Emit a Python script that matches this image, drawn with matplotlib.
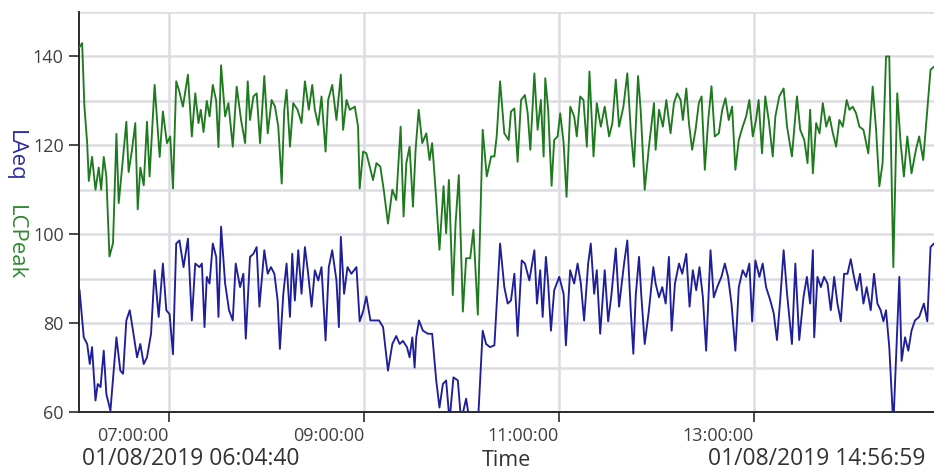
import datetime as dt
import matplotlib
matplotlib.use("Agg")
import matplotlib.pyplot as plt
import matplotlib.dates as mdates
from matplotlib.ticker import MultipleLocator

plt.rcParams["font.family"] = ["Open Sans", "DejaVu Sans"]

# minutes after 06:00 on 01/08/2019
laeq_min = [
    5.0, 7.6, 9.7, 11.3, 12.7, 14.8, 16.2, 17.9, 19.9, 21.5, 24.0, 27.7, 30.1, 31.8, 33.8,
    35.9, 37.9, 40.4, 42.4, 44.5, 46.5, 49.0, 51.2, 53.7, 56.3, 58.4, 60.4, 62.5, 64.5, 66.5,
    69.0, 71.7, 74.1, 76.2, 78.8, 80.3, 81.9, 83.3, 85.0, 87.0, 89.1, 90.5, 92.1,
    94.6, 97.0, 99.3, 101.1, 103.8, 105.8, 107.3, 109.9, 112.0, 114.0, 115.7, 118.7, 120.8,
    122.8, 124.9, 126.9, 128.3, 130.4, 132.4, 134.5, 135.9, 137.5, 139.6, 141.6, 143.7, 145.7,
    147.8, 149.8, 151.9, 153.9, 156.4, 158.4, 160.5, 163.1, 164.6, 165.8, 167.8, 169.9, 172.3,
    175.4, 177.4, 179.5,
    181.5, 184.0, 186.7, 189.3, 191.8, 194.8, 197.5, 199.9, 202.0, 204.0, 206.5, 208.1, 209.8,
    211.2, 212.2, 213.9, 216.3, 219.4, 222.0, 224.5, 226.5, 228.6, 230.6, 232.7, 235.1, 237.8,
    239.8, 242.9, 245.4, 250.1, 253.1, 255.2, 257.6, 260.3, 263.8, 266.4, 268.5,
    270.5, 272.6, 274.6, 277.1, 279.1, 281.8, 284.9, 286.5, 288.5, 290.0, 292.0, 293.4, 295.1,
    297.1, 300.2, 302.9, 304.3, 306.9, 309.4, 311.5, 313.5, 315.5, 318.0, 319.6, 321.7, 323.3,
    325.4, 328.2, 330.3, 332.3, 335.0, 337.0, 340.1, 342.1, 344.2, 345.8, 347.3, 349.3, 350.7,
    352.8, 355.4, 358.1,
    359.5, 361.6, 363.6, 365.7, 367.7, 369.4, 371.4, 373.9, 375.9, 378.4, 380.4, 382.4, 384.5,
    386.5, 388.6, 390.6, 393.3, 395.3, 397.4, 400.0, 402.1, 404.1, 406.2, 408.6, 410.7, 413.1,
    415.2, 417.2, 418.9, 420.9, 423.4, 425.4, 427.5, 430.1, 432.2, 434.2, 436.3, 438.3, 440.4,
    443.4, 445.5, 447.9,
    450.5, 452.6, 454.6, 456.3, 457.1, 459.1, 461.2, 463.2, 465.3, 467.3, 469.4, 471.4, 473.5,
    475.5, 477.6, 479.6, 481.2, 483.3, 485.3, 487.4, 489.4, 491.9, 493.9, 496.0, 498.0, 499.7,
    501.3, 503.3, 505.8, 507.8, 509.5, 510.9, 513.0, 515.0, 517.0, 519.1, 521.7, 524.6, 526.7,
    528.7, 530.8, 536.9,
]
laeq_db = [
    87.4, 76.8, 75.3, 70.8, 74.6, 62.6, 66.3, 65.6, 73.8, 64.0, 60.3, 76.8, 69.3, 68.6, 80.6,
    82.9, 78.3, 72.3, 75.3, 70.8, 72.3, 77.6, 91.9, 81.4, 93.4, 82.9, 82.0, 73.0, 97.9, 98.6,
    92.6, 99.0, 80.6, 93.4, 92.6, 93.4, 79.1, 90.4, 88.9, 97.9, 94.9, 81.4, 101.7,
    88.9, 82.9, 80.6, 93.4, 88.1, 91.1, 76.5, 94.9, 95.6, 97.1, 83.7, 96.4, 91.1,
    92.6, 91.1, 85.1, 74.2, 86.6, 93.4, 81.4, 95.6, 85.1, 96.4, 86.6, 97.1, 91.1,
    83.7, 91.9, 89.6, 92.6, 76.1, 92.6, 96.4, 89.6, 79.1, 99.4, 86.6, 92.6, 91.1,
    92.6, 80.4, 82.6,
    86.0, 80.6, 80.6, 80.6, 79.1, 69.3, 75.3, 77.1, 75.3, 76.0, 74.6, 72.3, 76.8,
    70.0, 76.8, 80.6, 78.3, 77.6, 77.6, 67.1, 61.0, 66.3, 67.1, 58.0, 67.8, 67.1,
    58.0, 63.0, 57.0, 57.0, 78.3, 75.3, 74.6, 75.0, 97.9, 88.1, 84.4,
    85.1, 91.1, 77.1, 94.1, 93.4, 89.6, 96.4, 84.4, 91.9, 81.4, 94.9, 88.9, 78.3,
    87.4, 90.4, 86.6, 75.0, 91.9, 88.9, 93.4, 88.9, 80.6, 93.4, 97.9, 86.6, 91.9,
    77.6, 91.9, 80.4, 86.3, 96.8, 83.7, 93.4, 98.6, 82.9, 73.1, 86.3, 94.9, 86.3,
    75.3, 82.9, 92.6,
    88.9, 85.8, 88.1, 84.4, 94.9, 78.3, 88.9, 93.4, 91.1, 95.6, 83.7, 91.9, 87.4,
    92.6, 85.8, 73.8, 96.4, 85.8, 88.1, 90.4, 93.4, 90.4, 84.4, 73.8, 88.1, 91.9,
    90.4, 93.4, 80.4, 94.1, 90.4, 93.4, 88.1, 85.1, 82.2, 76.2, 85.8, 96.4, 86.6,
    75.3, 93.4, 76.2,
    85.8, 90.4, 84.4, 96.4, 76.8, 90.4, 88.1, 90.4, 88.9, 82.9, 90.4, 84.4, 80.4,
    91.1, 91.1, 94.4, 91.1, 87.4, 91.1, 84.4, 88.1, 82.9, 91.1, 84.4, 82.9, 80.4,
    82.9, 74.6, 57.0, 75.3, 90.4, 71.5, 76.8, 73.8, 78.3, 80.6, 81.4, 84.4, 80.4,
    97.1, 97.9, 96.0,
]

lcpeak_min = [
    4.8, 6.6, 8.0, 9.7, 10.7, 12.7, 14.8, 16.8, 18.3, 19.9, 21.5, 23.4, 25.6, 27.7, 29.1,
    31.2, 33.8, 35.2, 37.3, 39.3, 40.8, 42.4, 44.5, 46.5, 48.1, 51.2, 54.3, 56.3, 58.8, 60.8,
    62.5, 64.5, 66.5, 68.6, 71.7, 74.1, 76.2, 78.2, 79.6, 81.3, 83.3, 85.0, 87.0, 89.1, 90.5,
    92.1,
    94.6, 96.6, 99.3, 101.7, 104.4, 106.9, 108.5, 109.9, 112.0, 114.0, 116.1, 118.7, 120.8,
    123.2, 125.3, 127.3, 129.4, 131.0, 132.4, 134.5, 136.5, 139.2, 141.6, 143.7, 146.1, 148.2,
    149.8, 151.9, 153.9, 156.4, 158.0, 160.5, 163.1, 165.8, 167.2, 169.3, 171.3, 174.4, 176.4,
    177.4, 179.5,
    181.5, 183.6, 185.6, 187.7, 190.1, 192.2, 194.8, 197.5, 199.9, 202.6, 204.4, 206.1, 208.1,
    210.2, 211.8, 213.7, 215.9, 218.4, 220.4, 222.0, 224.1, 226.5, 229.0, 230.6, 232.3, 234.7,
    236.4, 238.4, 240.9, 242.9, 245.4, 247.4, 250.1, 253.1, 255.6, 258.3, 260.3, 261.7, 263.8,
    266.4, 269.1,
    270.5, 272.6, 274.6, 276.7, 279.1, 280.8, 282.4, 284.9, 286.9, 288.9, 290.6, 291.6, 293.4,
    295.5, 297.1, 299.2, 300.8, 302.9, 304.7, 307.0, 309.4, 311.0, 313.1, 315.1, 317.2, 318.8,
    321.3, 323.3, 325.8, 328.2, 330.9, 332.9, 335.0, 337.0, 339.7, 342.1, 344.2, 346.2, 348.7,
    350.3, 352.8, 355.4, 358.5,
    359.5, 361.6, 364.0, 366.1, 368.7, 370.8, 372.8, 374.9, 376.3, 378.4, 380.0, 382.0, 384.1,
    386.1, 387.8, 389.8, 391.9, 393.9, 395.9, 398.4, 400.5, 402.5, 404.5, 406.6, 408.6, 410.7,
    413.1, 415.2, 417.2, 419.3, 421.3, 422.9, 425.0, 427.0, 429.1, 431.6, 433.2, 435.6, 438.3,
    440.4, 443.4, 446.5,
    448.5, 451.0, 453.0, 454.6, 456.3, 458.3, 460.4, 462.4, 464.5, 466.5, 468.6, 470.6, 472.6,
    474.7, 477.1, 478.8, 480.8, 482.9, 484.9, 487.4, 490.4, 493.1, 495.2, 497.2, 499.2, 501.3,
    503.3, 505.8, 508.2, 510.3, 512.3, 514.4, 517.0, 519.7, 521.7, 524.2, 526.7, 528.7, 530.8,
    536.9,
]
lcpeak_db = [
    142.0, 143.0, 128.7, 120.5, 112.0, 117.4, 110.0, 115.0, 110.0, 117.4, 113.0, 95.0, 98.0, 122.6, 107.0,
    115.0, 125.3, 114.0, 119.0, 125.0, 105.6, 115.0, 111.0, 125.3, 113.0, 133.6, 117.4, 127.6, 120.5, 122.0,
    110.3, 134.4, 132.0, 128.7, 135.9, 122.0, 131.7, 125.0, 128.0, 123.0, 130.0, 126.5, 133.6, 130.0, 119.6,
    138.0,
    126.5, 129.5, 119.7, 133.2, 125.7, 120.5, 134.4, 125.7, 131.0, 131.7, 120.5, 135.6, 122.7,
    130.2, 128.7, 124.2, 111.4, 128.0, 132.5, 119.7, 129.5, 128.0, 125.0, 134.4, 128.0, 133.6,
    128.0, 124.6, 131.0, 118.6, 130.2, 133.6, 125.7, 135.9, 123.5, 130.2, 128.0, 128.7, 124.2,
    110.3, 118.6,
    118.2, 115.2, 112.2, 116.0, 115.2, 110.0, 102.4, 110.0, 107.7, 124.2, 104.0, 116.0, 119.7,
    106.2, 119.0, 128.0, 120.5, 122.7, 116.7, 120.5, 110.0, 96.5, 110.8, 100.2, 112.2, 86.3,
    102.4, 113.3, 82.6, 94.6, 94.6, 101.0, 81.9, 123.5, 113.0, 117.5, 117.5, 122.0, 134.4,
    122.7, 121.2,
    127.6, 128.3, 116.3, 130.2, 131.3, 127.2, 119.0, 136.2, 123.5, 130.2, 117.5, 135.1, 128.0,
    110.9, 121.2, 122.0, 127.2, 120.5, 108.4, 128.7, 126.5, 122.0, 131.0, 130.2, 119.7, 136.6,
    117.5, 129.5, 124.2, 128.7, 122.0, 125.0, 134.8, 124.2, 128.7, 136.2, 123.5, 115.2, 135.6,
    128.0, 110.0, 119.7, 129.5,
    119.0, 128.0, 124.2, 130.2, 122.7, 129.5, 131.7, 130.2, 125.7, 132.8, 125.0, 119.0, 123.5,
    129.5, 131.0, 114.5, 125.7, 133.3, 122.0, 122.7, 128.0, 130.6, 125.7, 128.7, 114.5, 121.2,
    124.2, 126.5, 130.2, 122.0, 125.7, 130.2, 118.2, 131.0, 125.7, 117.5, 126.5, 131.0, 132.8,
    124.2, 117.5, 131.0,
    123.5, 121.2, 116.0, 128.0, 113.7, 125.0, 122.7, 129.5, 124.2, 126.5, 122.7, 119.7, 125.7,
    124.2, 130.2, 128.0, 128.7, 127.2, 124.2, 123.5, 118.2, 133.2, 123.5, 110.8, 116.0, 140.0,
    140.0, 92.6, 131.7, 120.5, 113.0, 122.0, 113.7, 119.0, 122.0, 116.7, 128.0, 137.0, 137.7,
    136.0,
]

day0 = dt.datetime(2019, 8, 1, 6, 0, 0)
t_start = dt.datetime(2019, 8, 1, 6, 4, 40)
t_end = dt.datetime(2019, 8, 1, 14, 56, 59)

laeq_t = [day0 + dt.timedelta(minutes=m) for m in laeq_min]
lcpeak_t = [day0 + dt.timedelta(minutes=m) for m in lcpeak_min]

W, H = 934, 473
fig = plt.figure(figsize=(W / 100, H / 100), dpi=100)
# plot area runs a little past the right edge of the image, as in the screenshot
ax = fig.add_axes([79 / W, 61 / H, 865 / W, 400 / H])

green = "#1f7a1f"
blue = "#1f1f99"
ax.plot(lcpeak_t, lcpeak_db, color=green, lw=1.35, zorder=3)
ax.plot(laeq_t, laeq_db, color=blue, lw=1.35, zorder=3)

ax.set_xlim(t_start, t_end)
ax.set_ylim(60, 150)

ax.yaxis.set_major_locator(MultipleLocator(20))
ax.yaxis.set_minor_locator(MultipleLocator(10))
ax.xaxis.set_major_locator(mdates.HourLocator(byhour=[7, 9, 11, 13]))
ax.xaxis.set_major_formatter(mdates.DateFormatter("%H:%M:%S"))

ax.grid(True, which="both", axis="y", color="#dcdce2", lw=1.8, zorder=0)
ax.grid(True, which="major", axis="x", color="#dcdce2", lw=1.8, zorder=0)
ax.set_axisbelow(True)

for s in ["top", "right"]:
    ax.spines[s].set_visible(False)
for s in ["left", "bottom"]:
    ax.spines[s].set_color("#2a2a2a")
    ax.spines[s].set_linewidth(1.4)

ax.tick_params(axis="both", which="major", length=7, width=1.2, color="#2a2a2a",
               labelsize=13, labelcolor="#404040")
ax.tick_params(axis="both", which="minor", length=0)
ax.tick_params(axis="y", pad=4)
ax.tick_params(axis="x", pad=3.5)
for lab in ax.get_xticklabels():
    lab.set_ha("right")

fig.text(15 / W, 1 - 130 / H, "LAeq", color="#2b2ba6", fontsize=16, rotation=270,
         ha="center", va="top")
fig.text(15 / W, 1 - 205 / H, "LCPeak", color="#2e8b2e", fontsize=16, rotation=270,
         ha="center", va="top")

fig.text(82 / W, 1 - 459 / H, "01/08/2019 06:04:40", color="#333333", fontsize=16.5,
         ha="left", va="center")
fig.text(506 / W, 1 - 460 / H, "Time", color="#333333", fontsize=15.5,
         ha="center", va="center")
fig.text(925 / W, 1 - 459 / H, "01/08/2019 14:56:59", color="#333333", fontsize=16.5,
         ha="right", va="center")

fig.savefig("out.png", dpi=100)
